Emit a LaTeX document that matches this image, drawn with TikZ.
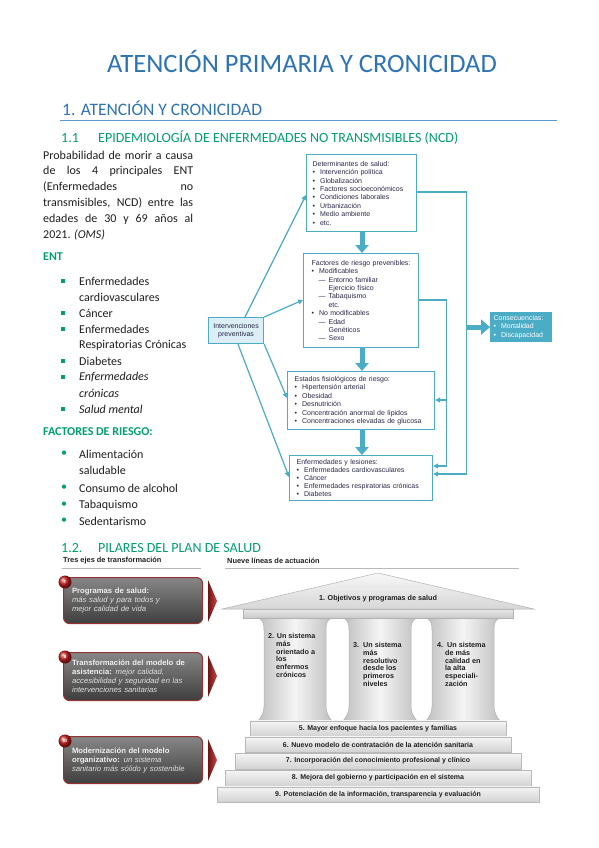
\documentclass[tikz,border=0pt]{standalone}
\usepackage{fontspec}
\setmainfont{Carlito}
\newfontfamily\arialf{Liberation Sans}
\usetikzlibrary{arrows.meta,calc}
\definecolor{tblue}{RGB}{46,116,181}
\definecolor{lblue}{RGB}{91,155,213}
\definecolor{tgreen}{RGB}{0,160,110}
\definecolor{fcyan}{RGB}{75,172,198}
\definecolor{ftext}{RGB}{40,40,70}
\definecolor{ivfill}{RGB}{220,238,246}
\definecolor{bodyc}{RGB}{30,30,30}
\newcommand\fbul{\makebox[7.5pt][l]{\textbullet}}
\newcommand\fdsh{\hspace*{7pt}\makebox[10pt][l]{—}}
\newcommand\fsp{\hspace*{17pt}}
\newcommand\jline[1]{\makebox[150pt][s]{#1}}
\begin{document}
\begin{tikzpicture}[x=1pt,y=-1pt,
  fbox/.style={draw=fcyan, line width=1.2pt, fill=white, anchor=north west, align=left,
    inner ysep=0pt, font=\arialf\fontsize{7}{8.4}\selectfont, text=ftext},
  fl/.style={draw=fcyan, line width=1.2pt, -{Triangle[width=5pt,length=5pt]}},
  barr/.style={draw=fcyan, line width=5pt, -{Triangle[width=13pt,length=8pt]}},
  body/.style={anchor=west, inner sep=0pt, font=\fontsize{12}{14}\selectfont, text=bodyc},
  ghead/.style={anchor=west, inner sep=0pt, font=\bfseries\fontsize{12}{14}\selectfont, text=tgreen},
  sqb/.style={fill=tgreen, minimum size=3.2pt, inner sep=0pt},
  rdb/.style={inner sep=0pt, text=tgreen, font=\fontsize{12}{14}\selectfont},
  darkbox/.style={rounded corners=6pt, top color={rgb,255:red,135;green,135;blue,135},
    bottom color={rgb,255:red,62;green,62;blue,62}, draw={rgb,255:red,150;green,50;blue,50},
    line width=1.1pt, anchor=north west, minimum width=139pt, inner xsep=8pt, text width=122pt,
    align=left, font=\arialf\fontsize{7.7}{9}\selectfont, text={rgb,255:red,240;green,240;blue,240}},
  numball/.style={circle, ball color={rgb,255:red,200;green,30;blue,30}, minimum size=13pt,
    inner sep=0pt, text=white, font=\arialf\bfseries\fontsize{4.5}{5}\selectfont},
  chev/.style={left color={rgb,255:red,110;green,20;blue,20}, right color={rgb,255:red,200;green,70;blue,70}},
  ttext/.style={inner sep=0pt, font=\arialf\bfseries\fontsize{7.2}{7.8}\selectfont, text=gray!25!black},
  stepbox/.style={draw=gray!55, top color=gray!8, bottom color=gray!35, inner sep=0pt,
    font=\arialf\bfseries\fontsize{7}{8}\selectfont, text=gray!25!black},
  hdr/.style={anchor=west, inner sep=0pt, font=\arialf\bfseries\fontsize{7.4}{9}\selectfont, text=gray!25!black}
]
\useasboundingbox (0,0) rectangle (599,848);
\fill[white] (0,0) rectangle (599,848);

% ---------- headings ----------
\node[font=\fontsize{26.5}{30}\selectfont, text=tblue, inner sep=0pt] (title) at (302,62) {ATENCIÓN PRIMARIA Y CRONICIDAD};
\node[anchor=west, inner sep=0pt, font=\fontsize{17.5}{20}\selectfont, text=tblue] (sec1) at (62,108) {1. ATENCIÓN Y CRONICIDAD};
\draw[lblue, line width=0.9pt] (60,120) -- (557,120);
\node[anchor=west, inner sep=0pt, font=\fontsize{14}{16}\selectfont, text=tgreen] (ss1n) at (61,138) {1.1};
\node[anchor=west, inner sep=0pt, font=\fontsize{14}{16}\selectfont, text=tgreen] (ss1) at (98,138) {EPIDEMIOLOGÍA DE ENFERMEDADES NO TRANSMISIBLES (NCD)};

% ---------- left paragraph ----------
\node[body] (p1) at (43,155) {\jline{Probabilidad de morir a causa}};
\node[body] (p2) at (43,171) {\jline{de los 4 principales ENT}};
\node[body] (p3) at (43,187) {\jline{(Enfermedades no}};
\node[body] (p4) at (43,203) {\jline{transmisibles, NCD) entre las}};
\node[body] (p5) at (43,219) {\jline{edades de 30 y 69 años al}};
\node[body] (p6) at (43,235) {2021. \textit{(OMS)}};

\node[ghead] (ent) at (43,257) {ENT};
\foreach \yy/\nm in {281/q1,313/q2,329/q3,361/q4,377/q5,409/q6}{
  \node[sqb] (\nm) at (63,\yy) {};
}
\node[body] (e1a) at (79,281) {Enfermedades};
\node[body] (e1b) at (79,297) {cardiovasculares};
\node[body] (e2) at (79,313) {Cáncer};
\node[body] (e3a) at (79,329) {Enfermedades};
\node[body] (e3b) at (79,345) {Respiratorias Crónicas};
\node[body] (e4) at (79,361) {Diabetes};
\node[body] (e5a) at (79,377) {\itshape Enfermedades};
\node[body] (e5b) at (79,393) {\itshape crónicas};
\node[body] (e6) at (79,409) {\itshape Salud mental};

\node[ghead] (fr) at (43,432) {FACTORES DE RIESGO:};
\foreach \yy/\nm in {454/r1,488/r2,505/r3,521/r4}{
  \node[rdb] (\nm) at (64,\yy) {\textbullet};
}
\node[body] (f1a) at (79,454) {Alimentación};
\node[body] (f1b) at (79,470) {saludable};
\node[body] (f2) at (79,488) {Consumo de alcohol};
\node[body] (f3) at (79,505) {Tabaquismo};
\node[body] (f4) at (79,521) {Sedentarismo};

% ---------- flowchart ----------
\node[fbox, minimum width=110pt, minimum height=77pt, inner xsep=6pt, text width=98pt] (b1) at (306,154) {%
Determinantes de salud:\\
\fbul Intervención política\\
\fbul Globalización\\
\fbul Factores socioeconómicos\\
\fbul Condiciones laborales\\
\fbul Urbanización\\
\fbul Medio ambiente\\
\fbul etc.};
\node[fbox, minimum width=115pt, minimum height=94pt, inner xsep=8pt, text width=99pt] (b2) at (303,253) {%
Factores de riesgo prevenibles:\\
\fbul Modificables\\
\fdsh Entorno familiar\\
\fsp Ejercicio físico\\
\fdsh Tabaquismo\\
\fsp etc.\\
\fbul No modificables\\
\fdsh Edad\\
\fsp Genéticos\\
\fdsh Sexo};
\node[fbox, minimum width=147pt, minimum height=58pt, inner xsep=7pt, text width=133pt] (b3) at (287,371) {%
Estados fisiológicos de riesgo:\\
\fbul Hipertensión arterial\\
\fbul Obesidad\\
\fbul Desnutrición\\
\fbul Concentración anormal de lípidos\\
\fbul Concentraciones elevadas de glucosa};
\node[fbox, minimum width=143pt, minimum height=45pt, inner xsep=7pt, text width=129pt,
  font=\arialf\fontsize{7}{8}\selectfont] (b4) at (289,455) {%
Enfermedades y lesiones:\\
\fbul Enfermedades cardiovasculares\\
\fbul Cáncer\\
\fbul Enfermedades respiratorias crónicas\\
\fbul Diabetes};
\node[fbox, fill=ivfill, minimum width=55pt, minimum height=26pt, inner xsep=2pt, text width=51pt,
  align=center] (iv) at (208,317) {Intervenciones\\preventivas};
\node[fbox, fill=fcyan, text=white, minimum width=61pt, minimum height=29pt, inner xsep=3pt,
  text width=55pt] (cq) at (490,312) {Consecuencias:\\\fbul Mortalidad\\\fbul Discapacidad};

% central block arrows
\coordinate (m1) at ($(b1.south west)+(56,0)$);
\coordinate (m2) at ($(b2.south west)+(59,0)$);
\coordinate (m3) at ($(b3.south west)+(75,0)$);
\draw[barr] (m1) -- (m1 |- b2.north);
\draw[barr] (m2) -- (m2 |- b3.north);
\draw[barr] (m3) -- (m3 |- b4.north);

% arrows from Intervenciones
\draw[fl] ($(iv.north west)+(37,0)$) -- ($(b1.north west)+(0,41)$);
\draw[fl] (iv.north east) -- ($(b2.north west)+(0,47)$);
\draw[fl] (iv.south east) -- ($(b3.north west)+(0,27)$);
\draw[fl] ($(iv.south west)+(30,0)$) -- ($(b4.north west)+(0,22)$);

% right side connectors
\coordinate (j1) at ($(b1.north east)+(49,38)$);
\coordinate (j2) at ($(b2.north east)+(27,47)$);
\coordinate (j3) at ($(b3.north east)+(11,29)$);
\draw[fl] ($(b1.north east)+(0,38)$) -- (j1) |- ($(b4.north east)+(0,19)$);
\draw[fl] ($(b2.north east)+(0,47)$) -- (j2) |- (j3) -- ($(b3.north east)+(0,29)$);
\draw[fl] (j3) |- ($(b4.north east)+(0,11)$);
\draw[draw=fcyan, line width=5pt, -{Triangle[width=15pt,length=9pt]}] (j1 |- cq.west) -- (cq.west);

% ---------- section 1.2 ----------
\node[anchor=west, inner sep=0pt, font=\fontsize{14}{16}\selectfont, text=tgreen] (ss2n) at (61,548) {1.2.};
\node[anchor=west, inner sep=0pt, font=\fontsize{14}{16}\selectfont, text=tgreen] (ss2) at (98,548) {PILARES DEL PLAN DE SALUD};

\node[hdr] (h1) at (63,561) {Tres ejes de transformación};
\draw[gray!55, line width=1pt] (62,568) -- (201,568);
\node[hdr] (h2) at (227,561) {Nueve líneas de actuación};
\draw[gray!55, line width=1pt] (225,568) -- (519,568);

% dark boxes
\node[darkbox, minimum height=46pt] (d1) at (63,577) {%
\textbf{Programas de salud:}\\
{\color{gray!25}\itshape más salud y para todos y}\\
{\color{gray!25}\itshape mejor calidad de vida}};
\node[darkbox, minimum height=48pt] (d2) at (63,652) {%
\textbf{Transformación del modelo de}\\
\textbf{asistencia:} {\color{gray!25}\itshape mejor calidad,}\\
{\color{gray!25}\itshape accesibilidad y seguridad en las}\\
{\color{gray!25}\itshape intervenciones sanitarias}};
\node[darkbox, minimum height=47pt] (d3) at (63,736) {%
\textbf{Modernización del modelo}\\
\textbf{organizativo:} {\color{gray!25}\itshape un sistema}\\
{\color{gray!25}\itshape sanitario más sólido y sostenible}};
\node[numball] (n1) at (65,582) {I};
\node[numball] (n2) at (65,657) {II};
\node[numball] (n3) at (65,741) {III};
\shade[chev] (208,580) -- (217,601) -- (208,622) -- cycle;
\shade[chev] (208,655) -- (217,676) -- (208,697) -- cycle;
\shade[chev] (208,739) -- (217,760) -- (208,781) -- cycle;

% temple columns
\foreach \cx in {295,380,463}{
  \shadedraw[left color=gray!50, right color=gray!50, middle color=gray!8, draw=gray!60, line width=0.5pt]
   (\cx-36.5,618) .. controls (\cx-32,620) and (\cx-31,624) .. (\cx-31,630) -- (\cx-31,706)
   .. controls (\cx-31,712) and (\cx-33,716) .. (\cx-37,721) -- (\cx+37,721)
   .. controls (\cx+33,716) and (\cx+31,712) .. (\cx+31,706) -- (\cx+31,630)
   .. controls (\cx+31,624) and (\cx+32,620) .. (\cx+36.5,618) -- cycle;
}
\shadedraw[top color=gray!18, bottom color=gray!42, draw=gray!60, line width=0.5pt] (243,609) rectangle (513,618);
\shadedraw[top color=gray!6, bottom color=gray!32, draw=gray!60, line width=0.5pt] (222,609) -- (378,573) -- (534,609) -- cycle;
\node[ttext] (roof) at (378,599) {1. Objetivos y programas de salud};

\node[ttext, anchor=north west, align=left] (c1) at (268,633) {2. Un sistema\\\hspace*{8pt}más\\\hspace*{8pt}orientado a\\\hspace*{8pt}los\\\hspace*{8pt}enfermos\\\hspace*{8pt}crónicos};
\node[ttext, anchor=north west, align=left] (c2) at (353,642) {3.\ \ Un sistema\\\hspace*{10pt}más\\\hspace*{10pt}resolutivo\\\hspace*{10pt}desde los\\\hspace*{10pt}primeros\\\hspace*{10pt}niveles};
\node[ttext, anchor=north west, align=left] (c3) at (437,642) {4.\ \ Un sistema\\\hspace*{8pt}de más\\\hspace*{8pt}calidad en\\\hspace*{8pt}la alta\\\hspace*{8pt}especiali-\\\hspace*{8pt}zación};

% steps
\node[stepbox, minimum width=256pt, minimum height=15.5pt] (s5) at (378,728.5) {5. Mayor enfoque hacia los pacientes y familias};
\node[stepbox, minimum width=266pt, minimum height=15.5pt] (s6) at (378,744.5) {6. Nuevo modelo de contratación de la atención sanitaria};
\node[stepbox, minimum width=286pt, minimum height=16pt] (s7) at (378,761) {7. Incorporación del conocimiento profesional y clínico};
\node[stepbox, minimum width=306pt, minimum height=16pt] (s8) at (378,778) {8. Mejora del gobierno y participación en el sistema};
\node[stepbox, minimum width=322pt, minimum height=15.5pt] (s9) at (378,794.5) {9. Potenciación de la información, transparencia y evaluación};
\end{tikzpicture}
\end{document}
